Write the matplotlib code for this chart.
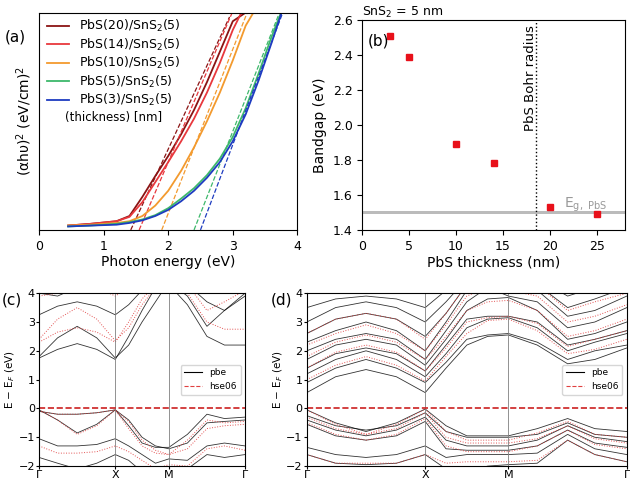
import numpy as np
import matplotlib
matplotlib.use("Agg")
import matplotlib.pyplot as plt

# ---- panel (a) data
tauc_labels = ["PbS(20)/SnS$_2$(5)", "PbS(14)/SnS$_2$(5)", "PbS(10)/SnS$_2$(5)",
               "PbS(5)/SnS$_2$(5)", "PbS(3)/SnS$_2$(5)"]
tauc_colors = ["#8B1414", "#E8383D", "#F39A2E", "#3DB86B", "#1E3CC0"]
tauc_x = [0.45, 0.8, 1.2, 1.4, 1.6, 1.8, 2.0, 2.2, 2.4, 2.6, 2.8, 3.0, 3.2, 3.4, 3.6, 3.8]
tauc_y = [
    [0.05, 0.07, 0.10, 0.16, 0.38, 0.62, 0.85, 1.10, 1.38, 1.70, 2.05, 2.40, 2.5, 2.5, 2.5, 2.5],
    [0.05, 0.07, 0.10, 0.15, 0.32, 0.55, 0.78, 1.02, 1.28, 1.58, 1.92, 2.30, 2.6, 2.6, 2.6, 2.6],
    [0.05, 0.06, 0.08, 0.10, 0.16, 0.28, 0.45, 0.68, 0.95, 1.25, 1.58, 1.95, 2.35, 2.6, 2.6, 2.6],
    [0.04, 0.05, 0.07, 0.09, 0.12, 0.17, 0.25, 0.36, 0.48, 0.63, 0.82, 1.07, 1.40, 1.80, 2.22, 2.6],
    [0.04, 0.05, 0.06, 0.08, 0.11, 0.16, 0.23, 0.33, 0.45, 0.60, 0.78, 1.02, 1.33, 1.72, 2.15, 2.6],
]
fit_x0 = [1.42, 1.55, 1.90, 2.40, 2.50]
fit_x1 = [2.95, 3.02, 3.25, 3.75, 3.80]
fit_y1 = [2.45, 2.55, 2.55, 2.55, 2.55]

# ---- panel (b) data
pbs_thick = [3, 5, 10, 14, 20, 25]
bandgap = [2.51, 2.39, 1.89, 1.78, 1.53, 1.49]

# ---- band structures
kpts = [0, .09, .185, .28, .37, .435, .5, .565, .63, .72, .815, .9, 1.0]
k_ticks = [0, .37, .63, 1.0]
k_labels = ["Γ", "X", "M", "Γ"]
c_pbe = [
    [1.75, 2.05, 2.25, 2.05, 1.70, 2.50, 3.40, 4.20, 4.30, 3.60, 2.50, 2.20, 2.20],
    [1.80, 2.45, 2.85, 2.45, 1.75, 2.20, 3.00, 3.70, 4.40, 3.90, 2.85, 3.40, 4.00],
    [3.25, 3.55, 3.70, 3.55, 3.25, 3.60, 4.10, 4.50, 4.50, 4.30, 3.70, 3.40, 3.90],
    [4.00, 3.90, 4.20, 4.30, 4.05, 4.30, 4.50, 4.50, 4.50, 4.50, 4.20, 4.30, 4.30],
    [-0.05, -0.40, -0.85, -0.55, -0.05, -0.60, -1.20, -1.35, -1.35, -0.90, -0.20, -0.35, -0.30],
    [-0.10, -0.20, -0.20, -0.15, -0.05, -0.40, -1.00, -1.30, -1.40, -1.20, -0.50, -0.45, -0.40],
    [-1.05, -1.30, -1.30, -1.25, -1.05, -1.30, -1.60, -1.90, -1.75, -1.80, -1.30, -1.20, -1.30],
    [-1.70, -1.90, -2.10, -1.90, -1.60, -1.80, -2.20, -2.20, -2.20, -2.10, -1.60, -1.70, -1.60],
]
c_hse = [
    [2.30, 2.65, 2.80, 2.65, 2.30, 3.00, 3.80, 4.30, 4.40, 4.00, 3.00, 2.75, 2.75],
    [2.40, 3.10, 3.50, 3.10, 2.35, 2.80, 3.60, 4.20, 4.50, 4.30, 3.40, 3.70, 4.10],
    [3.90, 4.00, 4.30, 4.20, 3.90, 4.20, 4.50, 4.50, 4.50, 4.50, 4.20, 4.00, 4.20],
    [-0.05, -0.40, -0.90, -0.60, -0.05, -0.70, -1.30, -1.55, -1.60, -1.10, -0.40, -0.50, -0.45],
    [-0.10, -0.20, -0.20, -0.15, -0.05, -0.45, -1.10, -1.45, -1.60, -1.40, -0.70, -0.60, -0.55],
    [-1.30, -1.55, -1.55, -1.50, -1.30, -1.50, -1.80, -2.10, -1.95, -2.00, -1.40, -1.30, -1.45],
]
d_pbe = [
    [0.55, 1.10, 1.35, 1.10, 0.55, 1.40, 2.20, 2.50, 2.55, 2.20, 1.55, 1.70, 2.10],
    [0.90, 1.40, 1.70, 1.40, 0.90, 1.60, 2.40, 2.55, 2.60, 2.30, 1.70, 2.00, 2.20],
    [1.20, 1.70, 2.00, 1.70, 1.10, 1.90, 2.80, 3.10, 3.15, 2.80, 2.00, 2.30, 2.60],
    [1.40, 1.90, 2.10, 1.90, 1.30, 2.20, 3.10, 3.20, 3.20, 3.00, 2.20, 2.40, 2.70],
    [1.70, 2.20, 2.40, 2.20, 1.50, 2.40, 3.40, 3.80, 3.85, 3.40, 2.40, 2.60, 3.00],
    [2.00, 2.40, 2.60, 2.40, 1.70, 2.70, 3.70, 4.20, 3.90, 3.70, 2.80, 3.00, 3.50],
    [2.30, 2.70, 3.00, 2.70, 2.00, 3.00, 4.10, 4.30, 4.20, 4.10, 3.20, 3.40, 3.90],
    [2.60, 3.10, 3.30, 3.10, 2.50, 3.30, 4.30, 4.40, 4.40, 4.30, 3.50, 3.80, 4.20],
    [3.00, 3.50, 3.70, 3.50, 3.00, 3.70, 4.50, 4.50, 4.50, 4.50, 3.90, 4.20, 4.40],
    [3.50, 3.80, 3.90, 3.80, 3.50, 4.10, 4.50, 4.50, 4.50, 4.50, 4.30, 4.40, 4.50],
    [-0.05, -0.50, -0.80, -0.50, -0.02, -0.60, -0.95, -0.95, -0.95, -0.70, -0.35, -0.70, -0.80],
    [-0.25, -0.60, -0.75, -0.60, -0.15, -0.80, -1.00, -1.00, -1.00, -0.90, -0.50, -0.90, -1.00],
    [-0.40, -0.75, -0.95, -0.75, -0.30, -1.10, -1.30, -1.30, -1.30, -1.10, -0.60, -1.00, -1.15],
    [-0.55, -0.95, -1.10, -0.95, -0.45, -1.40, -1.45, -1.45, -1.45, -1.30, -0.75, -1.20, -1.35],
    [-1.35, -1.60, -1.70, -1.60, -1.30, -1.70, -1.60, -1.60, -1.60, -1.55, -0.90, -1.40, -1.60],
    [-1.60, -1.90, -1.95, -1.90, -1.60, -2.10, -2.20, -2.00, -1.95, -1.90, -1.10, -1.60, -1.85],
]
d_hse = [
    [1.00, 1.50, 1.80, 1.50, 0.95, 1.80, 2.60, 3.05, 3.10, 2.70, 1.90, 2.05, 2.40],
    [1.40, 1.95, 2.20, 1.95, 1.30, 2.10, 3.00, 3.15, 3.20, 2.95, 2.15, 2.40, 2.70],
    [1.80, 2.30, 2.55, 2.30, 1.70, 2.50, 3.40, 3.70, 3.75, 3.40, 2.50, 2.70, 3.10],
    [2.20, 2.60, 2.90, 2.60, 2.00, 2.90, 3.90, 4.20, 4.10, 3.90, 3.00, 3.20, 3.60],
    [2.60, 3.10, 3.30, 3.10, 2.40, 3.30, 4.30, 4.40, 4.40, 4.30, 3.40, 3.70, 4.00],
    [-0.05, -0.55, -0.90, -0.55, -0.02, -0.80, -1.10, -1.10, -1.10, -0.85, -0.45, -0.90, -1.00],
    [-0.30, -0.70, -0.90, -0.70, -0.15, -1.00, -1.20, -1.20, -1.20, -1.05, -0.60, -1.05, -1.20],
    [-0.50, -0.90, -1.10, -0.90, -0.35, -1.30, -1.50, -1.50, -1.50, -1.30, -0.75, -1.25, -1.40],
    [-1.60, -1.90, -1.90, -1.90, -1.60, -1.90, -1.85, -1.85, -1.85, -1.80, -1.10, -1.60, -1.85],
]

fig = plt.figure(figsize=(6.3, 4.83), dpi=100)

# (a)
ax = fig.add_axes([0.062, 0.524, 0.41, 0.45])
for lab, col, y, x0, x1, y1 in zip(tauc_labels, tauc_colors, tauc_y, fit_x0, fit_x1, fit_y1):
    ax.plot(tauc_x, y, color=col, lw=1.3, label=lab)
    ax.plot([x0, x1], [0, y1], color=col, lw=0.9, ls="--")
ax.set_xlim(0, 4)
ax.set_ylim(0, 2.5)
ax.set_yticks([])
ax.set_xticks([0, 1, 2, 3, 4])
ax.tick_params(labelsize=9)
ax.set_xlabel("Photon energy (eV)", fontsize=10, labelpad=2)
ax.set_ylabel("(αhυ)$^2$ (eV/cm)$^2$", fontsize=10)
ax.legend(loc="upper left", bbox_to_anchor=(0.0, 1.01), frameon=False, fontsize=9,
          handlelength=1.8, labelspacing=0.2, borderaxespad=0.2)
ax.text(0.1, 0.5, "(thickness) [nm]", transform=ax.transAxes, fontsize=8.5)
fig.text(0.008, 0.915, "(a)", fontsize=11)

# (b)
ax = fig.add_axes([0.575, 0.524, 0.417, 0.435])
ax.axhspan(1.49, 1.51, color="#bbbbbb", lw=0)
ax.plot(pbs_thick, bandgap, "s", color="#e8101a", ms=5)
ax.axvline(18.5, color="k", ls=":", lw=1)
ax.text(17.2, 2.57, "PbS Bohr radius", rotation=90, fontsize=9.5, va="top")
ax.text(21.5, 1.525, "E$_\\mathrm{g,\\ PbS}$", color="#999999", fontsize=10)
ax.set_xlim(0, 28)
ax.set_ylim(1.4, 2.6)
ax.set_xticks([0, 5, 10, 15, 20, 25])
ax.set_yticks([1.4, 1.6, 1.8, 2.0, 2.2, 2.4, 2.6])
ax.set_xlabel("PbS thickness (nm)", fontsize=10, labelpad=2)
ax.set_ylabel("Bandgap (eV)", fontsize=10)
ax.tick_params(labelsize=9)
ax.text(0.02, 0.88, "(b)", transform=ax.transAxes, fontsize=11)
fig.text(0.575, 0.99, "SnS$_2$ = 5 nm", fontsize=9, va="top")

def bands(ax, pbe, hse):
    for b in pbe:
        ax.plot(kpts, b, color="k", lw=0.6, alpha=0.8)
    for b in hse:
        ax.plot(kpts, b, color="#e04040", lw=0.7, ls=":", alpha=0.9)
    ax.plot([], [], color="k", lw=0.8, label="pbe")
    ax.plot([], [], color="#e04040", lw=0.8, ls="--", label="hse06")
    for kt in k_ticks[1:-1]:
        ax.axvline(kt, color="gray", lw=0.6)
    ax.axhline(0, color="#cc2020", ls="--", lw=1.2)
    ax.set_xlim(0, 1)
    ax.set_ylim(-2, 4)
    ax.set_xticks(k_ticks)
    ax.set_xticklabels(k_labels)
    ax.set_yticks([-2, -1, 0, 1, 2, 3, 4])
    ax.tick_params(labelsize=8, length=2, pad=1)
    ax.set_ylabel("E − E$_F$ (eV)", fontsize=7.5, labelpad=1)
    ax.legend(loc="center right", bbox_to_anchor=(1.0, 0.5), fontsize=6.5)

ax = fig.add_axes([0.062, 0.035, 0.327, 0.358])
bands(ax, c_pbe, c_hse)
fig.text(0.003, 0.37, "(c)", fontsize=11)
ax = fig.add_axes([0.487, 0.035, 0.508, 0.358])
bands(ax, d_pbe, d_hse)
fig.text(0.43, 0.37, "(d)", fontsize=11)

fig.savefig("out.png", dpi=100)
